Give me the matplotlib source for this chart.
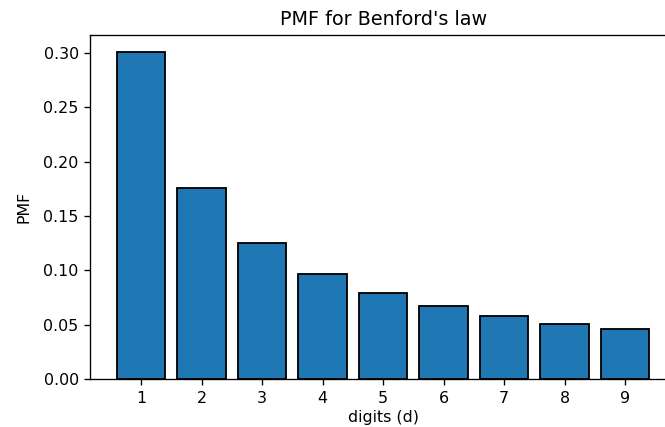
import matplotlib
matplotlib.use("Agg")
import matplotlib.pyplot as plt

digits = [1, 2, 3, 4, 5, 6, 7, 8, 9]
pmf = [0.301, 0.176, 0.125, 0.097, 0.079, 0.067, 0.058, 0.051, 0.046]

# figure is 665x427 px, drawn at 120 dpi
fig = plt.figure(figsize=(665 / 120, 427 / 120), dpi=120)
# axes runs past the right edge (the original was cropped there)
ax = fig.add_axes([0.1359, 0.1124, 0.8806, 0.8045])
ax.bar(digits, pmf, color='#1f77b4', edgecolor='black', linewidth=1.1)
ax.set_xticks(digits)
ax.tick_params(labelsize=9.5)
ax.set_xlabel('digits (d)', fontsize=9.5, labelpad=2.5)
ax.set_ylabel('PMF', fontsize=9.5, labelpad=7)
ax.set_title("PMF for Benford's law", fontsize=11.5)
fig.savefig('out.png', dpi=120)
